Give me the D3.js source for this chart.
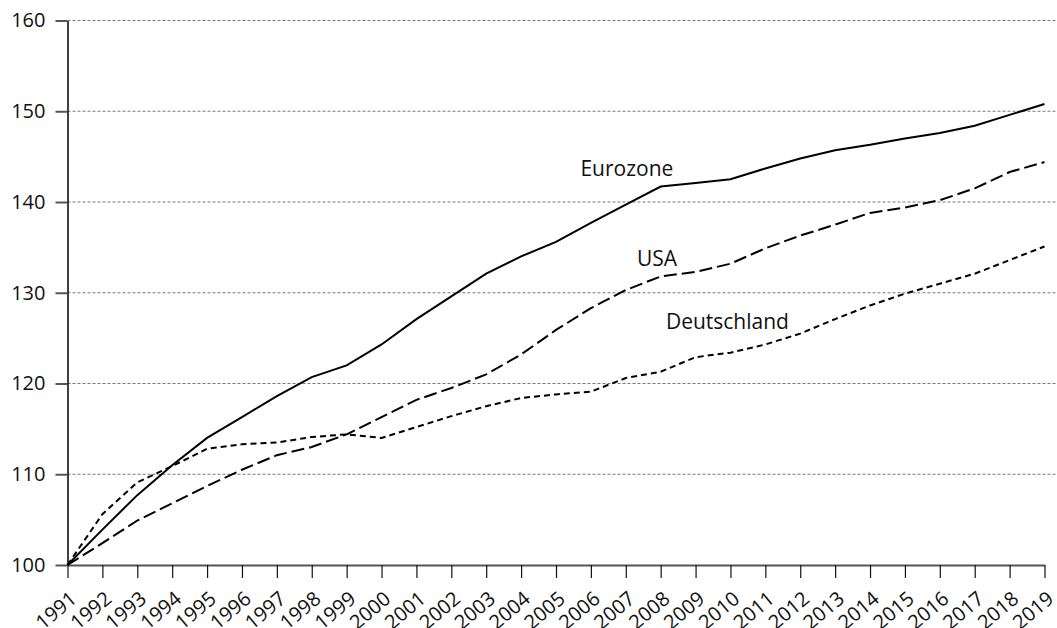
<!DOCTYPE html>
<html lang="de">
<head>
<meta charset="UTF-8">
<title>Eurozone, USA, Deutschland</title>
<style>
  body { margin: 0; background: #fff; }
  svg { display: block; font-family: "Open Sans", "Noto Sans", sans-serif; }
  .grid line { stroke: #777; stroke-width: 1; stroke-dasharray: 3 2; }
</style>
</head>
<body>
<svg></svg>
<script src="https://d3js.org/d3.v7.min.js"></script>
<script>
var years = d3.range(1991, 2020);
var eurozone = [100, 103.9, 107.7, 111.0, 114.0, 116.3, 118.6, 120.7, 122.0, 124.3,
  127.1, 129.6, 132.1, 134.0, 135.6, 137.7, 139.7, 141.7, 142.1, 142.5,
  143.7, 144.8, 145.7, 146.3, 147.0, 147.6, 148.4, 149.6, 150.8];
var usa = [100, 102.4, 104.9, 106.8, 108.7, 110.5, 112.1, 113.0, 114.4, 116.3,
  118.2, 119.5, 121.0, 123.2, 125.9, 128.3, 130.3, 131.8, 132.3, 133.2,
  134.9, 136.3, 137.5, 138.8, 139.4, 140.2, 141.5, 143.3, 144.4];
var deutschland = [100, 105.6, 109.1, 110.9, 112.8, 113.3, 113.5, 114.1, 114.4, 114.0,
  115.2, 116.4, 117.5, 118.4, 118.8, 119.1, 120.6, 121.3, 122.9, 123.4,
  124.3, 125.5, 127.1, 128.6, 129.9, 131.0, 132.1, 133.6, 135.1];
var yTicks = [100, 110, 120, 130, 140, 150, 160];

var width = 1057, height = 628;
var marginLeft = 67.5, plotRight = 1044.5, plotTop = 20.5, plotBottom = 565;

var svg = d3.select("svg").attr("width", width).attr("height", height);

var x = d3.scaleLinear().domain([1991, 2019]).range([marginLeft, plotRight]);
var y = d3.scaleLinear().domain([100, 160]).range([plotBottom, plotTop]);

// gridlines
svg.append("g").attr("class", "grid")
  .selectAll("line")
  .data(yTicks.slice(1))
  .enter().append("line")
    .attr("x1", marginLeft).attr("x2", width)
    .attr("y1", d => y(d)).attr("y2", d => y(d));

// y axis
var yAxis = svg.append("g")
  .attr("transform", "translate(" + marginLeft + ",0)")
  .call(d3.axisLeft(y).tickValues(yTicks).tickSize(12).tickPadding(10).tickSizeOuter(0));
yAxis.select(".domain").attr("stroke", "#000").attr("stroke-width", 1.5);
yAxis.selectAll(".tick line").attr("stroke", "#555").attr("stroke-width", 2);
yAxis.selectAll(".tick text").attr("font-size", 20).attr("fill", "#111")
  .attr("font-family", "'Open Sans', sans-serif");

// x axis
var xAxis = svg.append("g")
  .attr("transform", "translate(0," + plotBottom + ")")
  .call(d3.axisBottom(x).tickValues(years).tickFormat(d3.format("d")).tickSize(13).tickSizeOuter(0));
xAxis.select(".domain").attr("stroke", "#555").attr("stroke-width", 2);
xAxis.selectAll(".tick line").attr("stroke", "#111").attr("stroke-width", 1.2);
xAxis.selectAll(".tick text")
  .attr("font-size", 20).attr("fill", "#111")
  .attr("font-family", "'Open Sans', sans-serif")
  .attr("text-anchor", "end")
  .attr("x", 0).attr("y", 0)
  .attr("dy", null)
  .attr("transform", "translate(10,36) rotate(-40)");

var line = d3.line().x((d, i) => x(years[i])).y(d => y(d));

var series = [
  { values: eurozone, dash: null },
  { values: usa, dash: "13 5" },
  { values: deutschland, dash: "6 4" }
];

svg.selectAll(".series")
  .data(series)
  .enter().append("path")
    .attr("class", "series")
    .attr("d", d => line(d.values))
    .attr("fill", "none")
    .attr("stroke", "#000")
    .attr("stroke-width", 2)
    .attr("stroke-dasharray", d => d.dash);

// labels
var labels = [
  { text: "Eurozone", year: 2005.7, value: 142.85 },
  { text: "USA", year: 2007.32, value: 132.95 },
  { text: "Deutschland", year: 2008.15, value: 126.0 }
];
svg.selectAll(".lbl")
  .data(labels)
  .enter().append("text")
    .attr("class", "lbl")
    .attr("x", d => x(d.year))
    .attr("y", d => y(d.value))
    .attr("font-size", 21)
    .attr("fill", "#111")
    .text(d => d.text);
</script>
</body>
</html>
